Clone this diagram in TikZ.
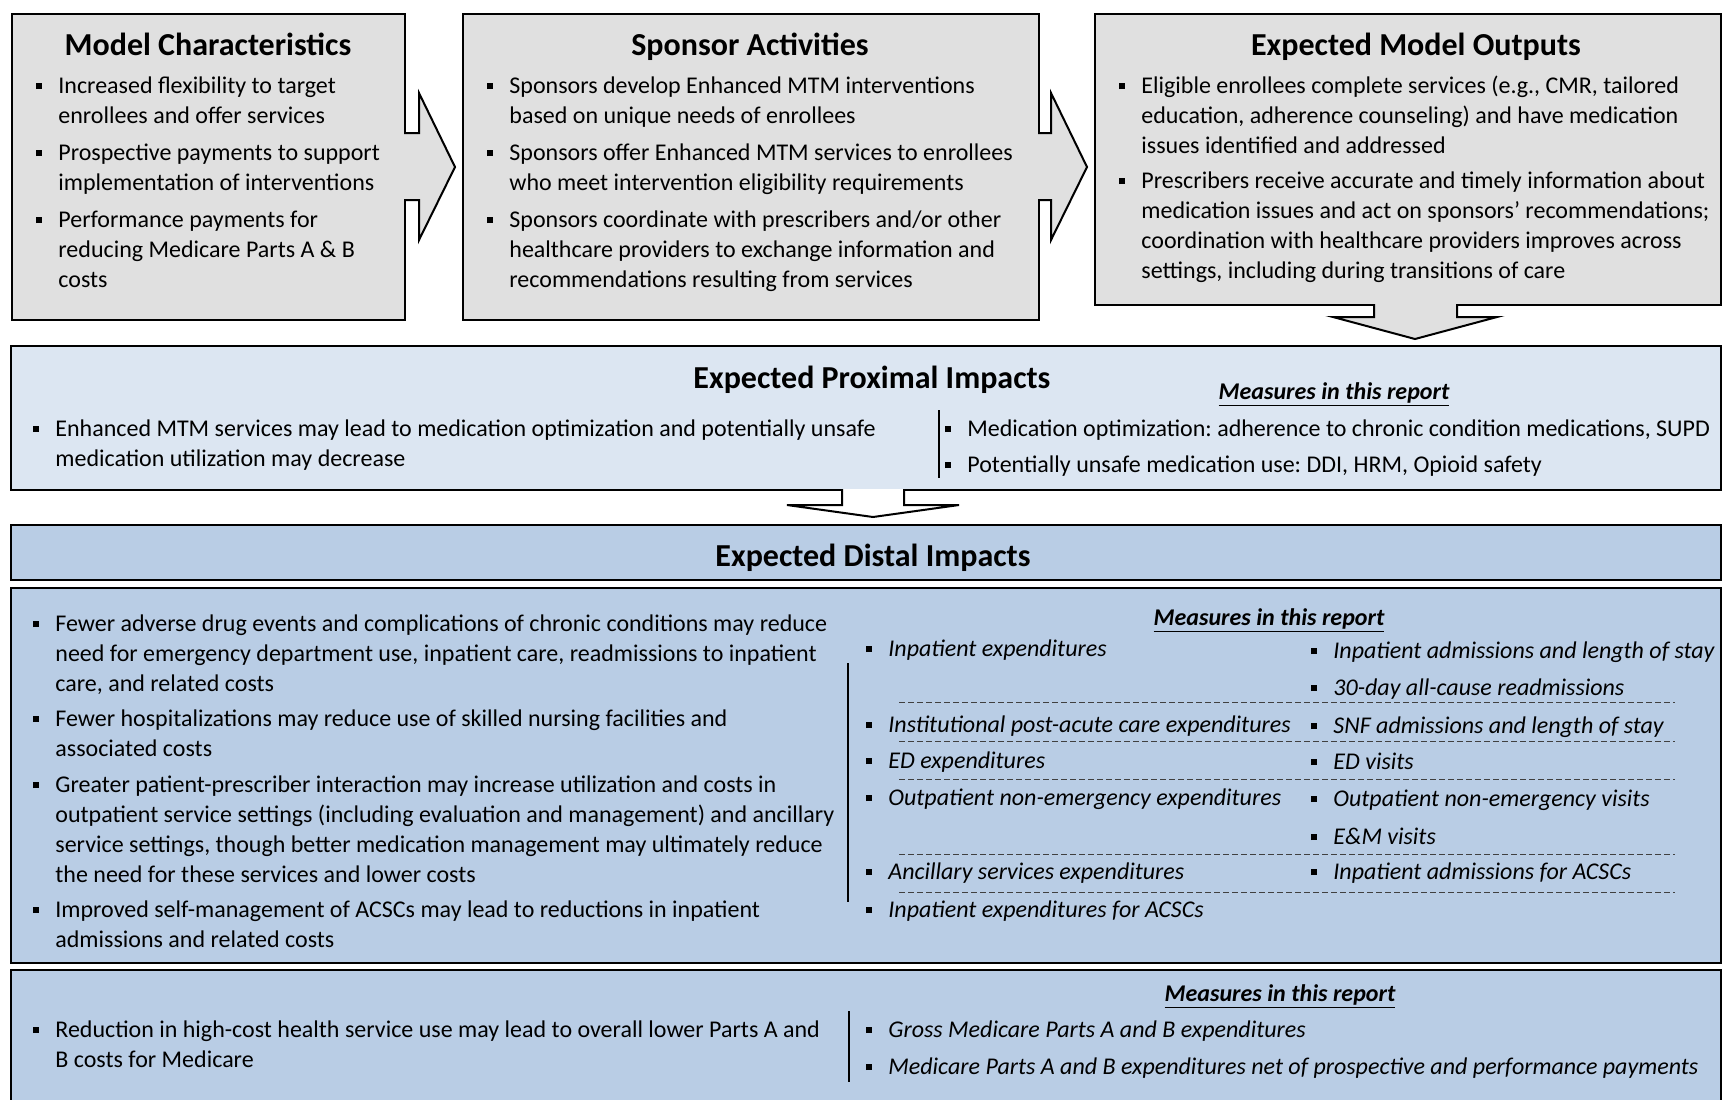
\documentclass[tikz,border=0pt]{standalone}
\usepackage{fontspec}
\setmainfont{Carlito}
\frenchspacing

\definecolor{boxgray}{HTML}{E0E0E0}
\definecolor{paleblue}{HTML}{DCE6F2}
\definecolor{midblue}{HTML}{B9CDE5}

% square bullet and a bullet item whose lines are broken by hand
\newcommand\sqb{\makebox[11pt][l]{\rule[2pt]{3pt}{3pt}}}
\newcommand\pnt[1]{\sqb\begin{tabular}[t]{@{}l@{}}#1\end{tabular}}

\tikzset{
    box/.style={draw=black, line width=1pt},
    ttl/.style={font=\fontsize{16}{19}\selectfont\bfseries, anchor=base, inner sep=0},
    itm/.style={font=\fontsize{12}{15}\selectfont, anchor=base west, inner sep=0},
    iitm/.style={itm, font=\fontsize{12}{15}\selectfont\itshape},
    msr/.style={font=\fontsize{12}{15}\selectfont\bfseries\itshape, anchor=base, inner sep=0},
    vline/.style={line width=0.75pt},
    dsh/.style={draw=black!75, line width=0.4pt, dash pattern=on 3pt off 1.5pt},
}

\begin{document}
\begin{tikzpicture}[x=0.5pt,y=-0.5pt]
\useasboundingbox (0,0) rectangle (1722,1099);

% boxes
\draw[box,fill=boxgray] (12,14) rectangle (405,320);
\draw[box,fill=boxgray] (463,14) rectangle (1039,320);
\draw[box,fill=boxgray] (1095,14) rectangle (1721,305);
\draw[box,fill=paleblue] (11,346) rectangle (1721,490);
\draw[box,fill=midblue] (11,525) rectangle (1721,580);
\draw[box,fill=midblue] (11,588) rectangle (1721,963);
\draw[box,fill=midblue] (11,970) rectangle (1721,1110);

% block arrows (open on the box side, the fill hides the border there)
\draw[box,fill=boxgray] (404,133) -- (419,133) -- (419,93) -- (455,167) -- (419,240) -- (419,200) -- (404,200);
\draw[box,fill=boxgray] (1038,133) -- (1051,133) -- (1051,93) -- (1087,167) -- (1051,240) -- (1051,200) -- (1038,200);
\draw[box,fill=boxgray] (1374,304) -- (1374,317) -- (1333,317) -- (1415,339) -- (1497,317) -- (1457,317) -- (1457,304);
\draw[box,fill=white] (842,489) -- (842,505) -- (787,505) -- (873,517) -- (959,505) -- (904,505) -- (904,489);

% model characteristics
\node[ttl] (mct) at (208,55) {Model Characteristics};
\node[itm] (mc1) at (36,93) {\pnt{Increased flexibility to target\\enrollees and offer services}};
\node[itm] (mc2) at (36,160) {\pnt{Prospective payments to support\\implementation of interventions}};
\node[itm] (mc3) at (36,227) {\pnt{Performance payments for\\reducing Medicare Parts A \& B\\costs}};

% sponsor activities
\node[ttl] (sat) at (750,55) {Sponsor Activities};
\node[itm] (sa1) at (487,93) {\pnt{Sponsors develop Enhanced MTM interventions\\based on unique needs of enrollees}};
\node[itm] (sa2) at (487,160) {\pnt{Sponsors offer Enhanced MTM services to enrollees\\who meet intervention eligibility requirements}};
\node[itm] (sa3) at (487,227) {\pnt{Sponsors coordinate with prescribers and/or other\\healthcare providers to exchange information and\\recommendations resulting from services}};

% expected model outputs
\node[ttl] (mot) at (1416,55) {Expected Model Outputs};
\node[itm] (mo1) at (1119,93) {\pnt{Eligible enrollees complete services (e.g., CMR, tailored\\education, adherence counseling) and have medication\\issues identified and addressed}};
\node[itm] (mo2) at (1119,188) {\pnt{Prescribers receive accurate and timely information about\\medication issues and act on sponsors' recommendations;\\coordination with healthcare providers improves across\\settings, including during transitions of care}};

% proximal impacts
\node[ttl] (pit) at (872,388) {Expected Proximal Impacts};
\node[itm] (pi1) at (33,436) {\pnt{Enhanced MTM services may lead to medication optimization and potentially unsafe\\medication utilization may decrease}};
\node[msr] (pim) at (1334,399) {\underline{Measures in this report}};
\draw[vline] (939,410) -- (939,478);
\node[itm] (pm1) at (945,436) {\pnt{Medication optimization: adherence to chronic condition medications, SUPD}};
\node[itm] (pm2) at (945,472) {\pnt{Potentially unsafe medication use: DDI, HRM, Opioid safety}};

% distal impacts
\node[ttl] (dit) at (873,566) {Expected Distal Impacts};
\node[itm] (di1) at (33,631) {\pnt{Fewer adverse drug events and complications of chronic conditions may reduce\\need for emergency department use, inpatient care, readmissions to inpatient\\care, and related costs}};
\node[itm] (di2) at (33,726) {\pnt{Fewer hospitalizations may reduce use of skilled nursing facilities and\\associated costs}};
\node[itm] (di3) at (33,792) {\pnt{Greater patient-prescriber interaction may increase utilization and costs in\\outpatient service settings (including evaluation and management) and ancillary\\service settings, though better medication management may ultimately reduce\\the need for these services and lower costs}};
\node[itm] (di4) at (33,917) {\pnt{Improved self-management of ACSCs may lead to reductions in inpatient\\admissions and related costs}};
\node[msr] (dim) at (1269,625) {\underline{Measures in this report}};
\draw[vline] (848,663) -- (848,902);

\node[iitm] (de1) at (866,656) {\pnt{Inpatient expenditures}};
\node[iitm] (de2) at (866,732) {\pnt{Institutional post-acute care expenditures}};
\node[iitm] (de3) at (866,768) {\pnt{ED expenditures}};
\node[iitm] (de4) at (866,805) {\pnt{Outpatient non-emergency expenditures}};
\node[iitm] (de5) at (866,879) {\pnt{Ancillary services expenditures}};
\node[iitm] (de6) at (866,917) {\pnt{Inpatient expenditures for ACSCs}};

\node[iitm] (du1) at (1311,658) {\pnt{Inpatient admissions and length of stay}};
\node[iitm] (du2) at (1311,695) {\pnt{30-day all-cause readmissions}};
\node[iitm] (du3) at (1311,733) {\pnt{SNF admissions and length of stay}};
\node[iitm] (du4) at (1311,769) {\pnt{ED visits}};
\node[iitm] (du5) at (1311,806) {\pnt{Outpatient non-emergency visits}};
\node[iitm] (du6) at (1311,844) {\pnt{E\&M visits}};
\node[iitm] (du7) at (1311,879) {\pnt{Inpatient admissions for ACSCs}};

\foreach \y in {702,741,779,854,892}
    \draw[dsh] (899,\y) -- (1675,\y);

% medicare costs
\node[msr] (bim) at (1280,1001) {\underline{Measures in this report}};
\node[itm] (bi1) at (33,1037) {\pnt{Reduction in high-cost health service use may lead to overall lower Parts A and\\B costs for Medicare}};
\draw[vline] (849,1011) -- (849,1082);
\node[iitm] (bm1) at (866,1037) {\pnt{Gross Medicare Parts A and B expenditures}};
\node[iitm] (bm2) at (866,1074) {\pnt{Medicare Parts A and B expenditures net of prospective and performance payments}};
\end{tikzpicture}
\end{document}
